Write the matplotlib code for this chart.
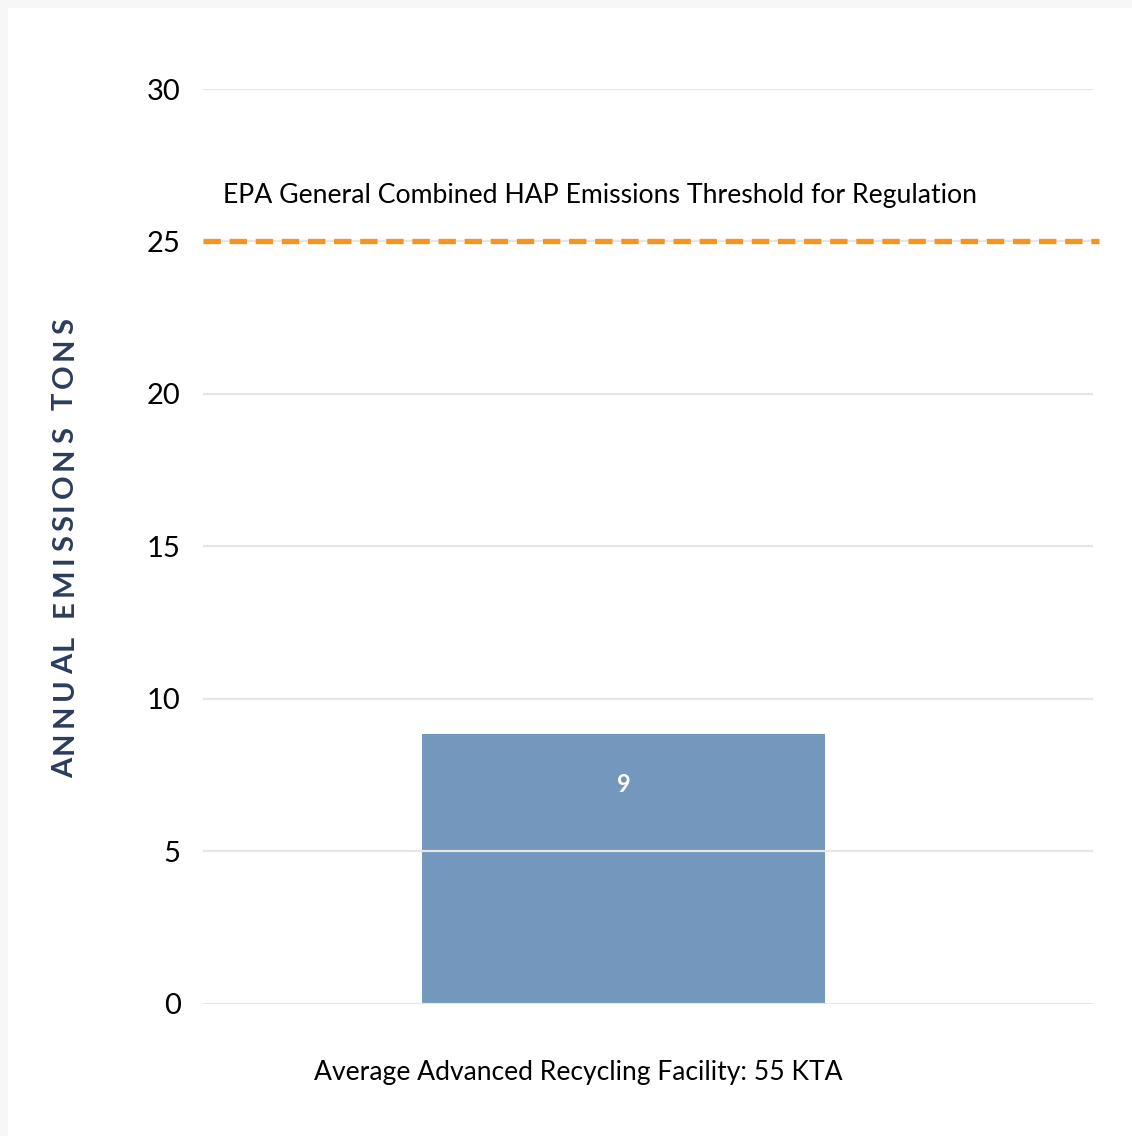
import matplotlib
matplotlib.use("Agg")
import matplotlib.pyplot as plt
import matplotlib.transforms as mtransforms
from matplotlib.patches import Rectangle

categories = ["Average Advanced Recycling Facility: 55 KTA"]
values = [8.83]
value_labels = ["9"]
threshold = 25
threshold_label = "EPA General Combined HAP Emissions Threshold for Regulation"
yticks = [0, 5, 10, 15, 20, 25, 30]
ylabel = "ANNUAL EMISSIONS TONS"

plt.rcParams['font.family'] = ['Lato', 'DejaVu Sans']
plt.rcParams['lines.scale_dashes'] = False

W, H = 1132, 1136
fig = plt.figure(figsize=(W / 100, H / 100), dpi=100)
fig.patch.set_facecolor('#f7f7f7')
fig.patches.append(Rectangle((8 / W, 0), 1, 1 - 8 / H, transform=fig.transFigure,
                             facecolor='white', edgecolor='none', zorder=-5))

ax = fig.add_axes([203 / W, 1 - 1003.5 / H, 890 / W, 914.5 / H])
ax.set_zorder(2)
ax.set_facecolor('none')

xs = list(range(len(categories)))
bars = ax.bar(xs, values, width=0.6, color='#7397bd', zorder=2)
for x, v, lab in zip(xs, values, value_labels):
    ax.text(x, v - 1.65, lab, ha='center', va='center', color='white',
            fontsize=17, fontweight='bold')

ax.set_xlim(-0.626, 0.699)
ax.set_ylim(0, 30)
ax.set_yticks(yticks)
ax.set_yticklabels([str(t) for t in yticks], fontsize=21, color='black')
ax.tick_params(axis='y', length=0, pad=16)
for t in yticks:
    ax.axhline(t, color='#e6e6e6', lw=1.6, zorder=3)

ax.plot([-0.626, 0.708], [threshold, threshold], color='#f7941d', lw=3.8,
        dashes=(12.5, 6.3), zorder=4, clip_on=False)
ax.text(0.022, threshold + 1.5, threshold_label, transform=ax.get_yaxis_transform(),
        ha='left', va='center', fontsize=19.2, color='black')

ax.set_xticks(xs)
ax.set_xticklabels(categories, fontsize=19.1, color='black')
ax.tick_params(axis='x', length=0, pad=41)
offset = mtransforms.ScaledTranslation(-45 / 100, 0, fig.dpi_scale_trans)
for lbl in ax.get_xticklabels():
    lbl.set_transform(lbl.get_transform() + offset)

for s in ax.spines.values():
    s.set_visible(False)

# y label with letter spacing, drawn char by char (rotated 90)
renderer = fig.canvas.get_renderer()
props = dict(rotation=90, ha='center', va='bottom', fontsize=21,
             fontweight='bold', color='#2b3d5b')
spacing = 4.25  # px between letters
heights = []
for ch in ylabel:
    t = fig.text(0, 0, ch if ch != ' ' else 'n', **props)
    bb = t.get_window_extent(renderer)
    heights.append(bb.height if ch != ' ' else bb.height * 0.55)
    t.remove()
total = sum(heights) + spacing * (len(ylabel) - 1)
ycur = (H - 548) - total / 2
for ch, h in zip(ylabel, heights):
    if ch != ' ':
        fig.text(65 / W, ycur / H, ch, **props)
    ycur += h + spacing

fig.savefig('out.png', dpi=100, facecolor=fig.get_facecolor())
